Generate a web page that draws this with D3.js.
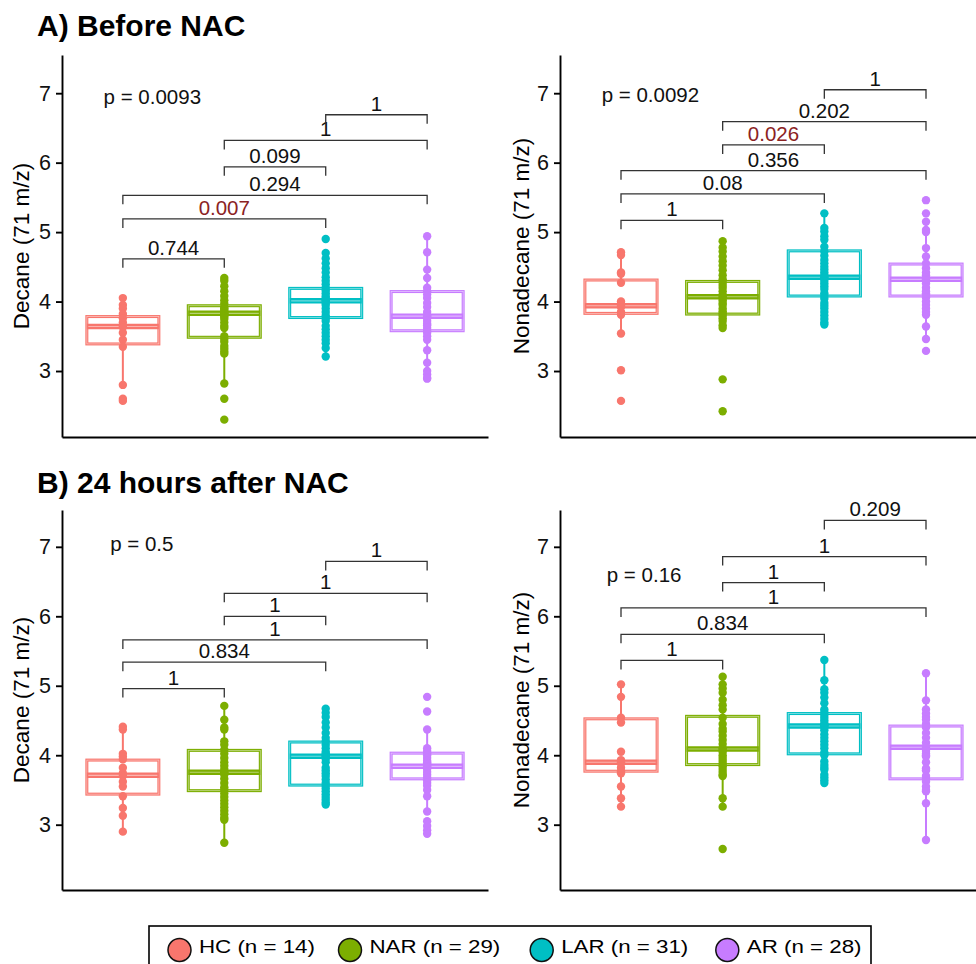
<!DOCTYPE html>
<html>
<head>
<meta charset="UTF-8">
<script src="https://d3js.org/d3.v7.min.js"></script>
<style>
  body { margin: 0; background: #fff; }
  text { font-family: "Liberation Sans", Arial, sans-serif; }
</style>
</head>
<body>
<svg id="chart" width="976" height="964"></svg>
<script>
// groups and colours (ggplot default hues)
const groups = ["HC", "NAR", "LAR", "AR"];
const groupN = [14, 29, 31, 28];
const colors = ["#F8766D", "#7CAE00", "#00BFC4", "#C77CFF"];
const yTicks = [3, 4, 5, 6, 7];
const rowTitles = ["A) Before NAC", "B) 24 hours after NAC"];
const yLabels = ["Decane (71 m/z)", "Nonadecane (71 m/z)"];

// pairwise comparisons, same order in every panel
const pairs = [[0, 1], [0, 2], [0, 3], [1, 2], [1, 3], [2, 3]];

// ---- A) Decane, before NAC
const decaneBeforePts = [
  [4.05, 3.95, 3.90, 3.82, 3.76, 3.70, 3.65, 3.63, 3.55, 3.45, 3.35, 2.80, 2.60, 2.57],
  [4.34, 4.30, 4.22, 4.15, 4.08, 4.02, 3.97, 3.92, 3.90, 3.88, 3.85, 3.83, 3.82, 3.80, 3.78, 3.75, 3.70, 3.65, 3.62, 3.50, 3.46, 3.42, 3.36, 3.32, 3.28, 3.25, 2.82, 2.60, 2.30],
  [4.90, 4.70, 4.62, 4.55, 4.48, 4.42, 4.35, 4.30, 4.25, 4.20, 4.16, 4.12, 4.08, 4.05, 4.02, 4.01, 3.98, 3.95, 3.90, 3.85, 3.80, 3.76, 3.72, 3.65, 3.60, 3.55, 3.50, 3.45, 3.40, 3.33, 3.21],
  [4.94, 4.71, 4.46, 4.34, 4.20, 4.15, 4.10, 4.05, 3.98, 3.92, 3.85, 3.80, 3.79, 3.76, 3.72, 3.68, 3.66, 3.62, 3.58, 3.55, 3.50, 3.45, 3.30, 3.12, 3.00, 2.95, 2.90, 2.89]
];
// [lower whisker, q1, median, q3, upper whisker]
const decaneBeforeBox = [
  [2.80, 3.39, 3.64, 3.784, 4.06],
  [2.82, 3.486, 3.83, 3.94, 4.34],
  [3.21, 3.77, 4.01, 4.19, 4.70],
  [2.89, 3.58, 3.79, 4.144, 4.94]
];
const decaneBeforeBrY = [4.615, 5.19, 5.53, 5.94, 6.32, 6.69];
const decaneBeforeBrLab = ["0.744", "0.007", "0.294", "0.099", "1", "1"];

// ---- A) Nonadecane, before NAC
const nonadecaneBeforePts = [
  [4.71, 4.67, 4.42, 4.40, 4.27, 4.00, 3.97, 3.94, 3.92, 3.85, 3.81, 3.54, 3.01, 2.57],
  [4.87, 4.78, 4.72, 4.65, 4.58, 4.52, 4.45, 4.38, 4.32, 4.28, 4.24, 4.20, 4.15, 4.10, 4.07, 4.05, 4.02, 3.98, 3.95, 3.90, 3.86, 3.83, 3.80, 3.76, 3.72, 3.66, 3.62, 2.88, 2.42],
  [5.27, 5.06, 5.01, 4.94, 4.89, 4.79, 4.72, 4.66, 4.60, 4.55, 4.50, 4.46, 4.42, 4.38, 4.35, 4.34, 4.30, 4.26, 4.22, 4.18, 4.12, 4.08, 4.04, 3.98, 3.94, 3.90, 3.85, 3.80, 3.75, 3.70, 3.67],
  [5.46, 5.27, 5.15, 5.03, 5.00, 4.77, 4.65, 4.55, 4.48, 4.42, 4.38, 4.34, 4.32, 4.30, 4.26, 4.20, 4.15, 4.12, 4.10, 4.06, 4.00, 3.95, 3.90, 3.85, 3.81, 3.64, 3.46, 3.29]
];
const nonadecaneBeforeBox = [
  [3.54, 3.83, 3.94, 4.31, 4.71],
  [3.62, 3.82, 4.07, 4.29, 4.87],
  [3.67, 4.08, 4.35, 4.73, 5.27],
  [3.46, 4.08, 4.32, 4.54, 5.15]
];
const nonadecaneBeforeBrY = [5.17, 5.55, 5.885, 6.255, 6.59, 7.05];
const nonadecaneBeforeBrLab = ["1", "0.08", "0.356", "0.026", "0.202", "1"];

// ---- B) Decane, 24 h after NAC
const decaneAfterPts = [
  [4.41, 4.37, 4.02, 3.98, 3.94, 3.82, 3.74, 3.70, 3.62, 3.55, 3.41, 3.24, 3.13, 2.90],
  [4.71, 4.51, 4.40, 4.37, 4.20, 4.15, 4.08, 4.02, 3.96, 3.90, 3.85, 3.80, 3.76, 3.75, 3.72, 3.66, 3.60, 3.54, 3.50, 3.45, 3.40, 3.35, 3.30, 3.25, 3.20, 3.15, 3.10, 3.07, 2.74],
  [4.67, 4.61, 4.55, 4.47, 4.40, 4.32, 4.25, 4.20, 4.15, 4.10, 4.05, 4.02, 4.00, 3.99, 3.97, 3.95, 3.90, 3.82, 3.78, 3.74, 3.70, 3.65, 3.60, 3.56, 3.52, 3.48, 3.44, 3.40, 3.36, 3.32, 3.29],
  [4.84, 4.63, 4.37, 4.10, 4.06, 4.03, 4.00, 3.96, 3.92, 3.90, 3.88, 3.86, 3.84, 3.82, 3.80, 3.76, 3.72, 3.68, 3.64, 3.60, 3.56, 3.50, 3.41, 3.19, 3.05, 2.98, 2.92, 2.87]
];
const decaneAfterBox = [
  [2.90, 3.44, 3.71, 3.93, 4.41],
  [2.74, 3.49, 3.755, 4.07, 4.71],
  [3.29, 3.57, 3.985, 4.19, 4.67],
  [3.19, 3.66, 3.84, 4.03, 4.37]
];
const decaneAfterBrY = [4.96, 5.34, 5.66, 6.0, 6.33, 6.79];
const decaneAfterBrLab = ["1", "0.834", "1", "1", "1", "1"];

// ---- B) Nonadecane, 24 h after NAC
const nonadecaneAfterPts = [
  [5.02, 4.84, 4.54, 4.47, 4.05, 3.93, 3.90, 3.88, 3.82, 3.77, 3.74, 3.55, 3.38, 3.26],
  [5.13, 5.02, 4.96, 4.90, 4.80, 4.72, 4.66, 4.54, 4.45, 4.38, 4.34, 4.28, 4.22, 4.16, 4.10, 4.08, 4.05, 4.00, 3.96, 3.92, 3.88, 3.84, 3.80, 3.76, 3.72, 3.70, 3.38, 3.26, 2.65],
  [5.37, 5.08, 4.95, 4.90, 4.83, 4.75, 4.66, 4.62, 4.58, 4.54, 4.50, 4.46, 4.43, 4.42, 4.40, 4.36, 4.30, 4.25, 4.20, 4.15, 4.10, 4.04, 4.00, 3.91, 3.86, 3.82, 3.79, 3.72, 3.68, 3.64, 3.60],
  [5.18, 4.79, 4.66, 4.60, 4.55, 4.51, 4.45, 4.40, 4.32, 4.25, 4.18, 4.12, 4.10, 4.06, 4.02, 4.00, 3.98, 3.90, 3.81, 3.78, 3.70, 3.66, 3.62, 3.55, 3.50, 3.48, 3.31, 2.78]
];
const nonadecaneAfterBox = [
  [3.26, 3.77, 3.90, 4.524, 5.02],
  [3.26, 3.865, 4.09, 4.56, 5.13],
  [3.60, 4.02, 4.42, 4.60, 5.37],
  [2.78, 3.66, 4.115, 4.42, 5.18]
];
const nonadecaneAfterBrY = [5.365, 5.74, 6.12, 6.485, 6.86, 7.38];
const nonadecaneAfterBrLab = ["1", "0.834", "1", "1", "1", "0.209"];

// global (Kruskal-Wallis) p labels: text, x in group units, y in data units
const globalP = ["p = 0.0093", "p = 0.0092", "p = 0.5", "p = 0.16"];
const globalPX = [0.81, 0.81, 0.875, 0.86];
const globalPY = [6.84, 6.88, 6.935, 6.50];

const svg = d3.select("#chart");

// row geometry
const rows = [
  { top: 55, bottom: 437, domain: [2.05, 7.55], titleY: 36 },
  { top: 510, bottom: 890, domain: [2.06, 7.53], titleY: 493 }
];
const cols = [
  { left: 62, right: 488, labelX: 29 },
  { left: 560, right: 987, labelX: 529 }
];

const panels = [
  { row: 0, col: 0, pts: decaneBeforePts, box: decaneBeforeBox, brY: decaneBeforeBrY, brLab: decaneBeforeBrLab, p: 0 },
  { row: 0, col: 1, pts: nonadecaneBeforePts, box: nonadecaneBeforeBox, brY: nonadecaneBeforeBrY, brLab: nonadecaneBeforeBrLab, p: 1 },
  { row: 1, col: 0, pts: decaneAfterPts, box: decaneAfterBox, brY: decaneAfterBrY, brLab: decaneAfterBrLab, p: 2 },
  { row: 1, col: 1, pts: nonadecaneAfterPts, box: nonadecaneAfterBox, brY: nonadecaneAfterBrY, brLab: nonadecaneAfterBrLab, p: 3 }
];

// row titles
rows.forEach((r, i) => {
  svg.append("text")
    .attr("x", 37)
    .attr("y", r.titleY)
    .style("font-size", "30px")
    .style("font-weight", "bold")
    .attr("fill", "#000")
    .text(rowTitles[i]);
});

panels.forEach(pn => {
  const r = rows[pn.row], c = cols[pn.col];
  const g = svg.append("g");

  const x = d3.scalePoint().domain(groups).range([c.left, c.right]).padding(0.6);
  const y = d3.scaleLinear().domain(r.domain).range([r.bottom, r.top]);
  const step = x.step();
  const bw = step * 0.71;

  // axes
  const yAx = g.append("g")
    .attr("transform", `translate(${c.left},0)`)
    .call(d3.axisLeft(y).tickValues(yTicks).tickFormat(d3.format("d"))
      .tickSize(6).tickSizeOuter(0).tickPadding(5));
  const xAx = g.append("g")
    .attr("transform", `translate(0,${r.bottom})`)
    .call(d3.axisBottom(x).tickSize(0).tickSizeOuter(0).tickFormat(""));
  [yAx, xAx].forEach(a => {
    a.select(".domain").attr("stroke", "#000").attr("stroke-width", 1.9);
    a.selectAll(".tick line").attr("stroke", "#000").attr("stroke-width", 1.9);
  });
  yAx.selectAll(".tick text").style("font-size", "21.5px").attr("fill", "#111");

  g.append("text")
    .attr("transform", `translate(${c.labelX},${(r.top + r.bottom) / 2}) rotate(-90)`)
    .attr("text-anchor", "middle")
    .style("font-size", "22.5px")
    .attr("fill", "#000")
    .text(yLabels[pn.col]);

  // boxplots
  groups.forEach((grp, i) => {
    const [lo, q1, med, q3, hi] = pn.box[i];
    const cx = x(grp);
    const col = colors[i];
    g.append("line").attr("x1", cx).attr("x2", cx).attr("y1", y(lo)).attr("y2", y(q1))
      .attr("stroke", col).attr("stroke-width", 2);
    g.append("line").attr("x1", cx).attr("x2", cx).attr("y1", y(q3)).attr("y2", y(hi))
      .attr("stroke", col).attr("stroke-width", 2);
    g.append("rect")
      .attr("x", cx - bw / 2).attr("y", y(q3))
      .attr("width", bw).attr("height", y(q1) - y(q3))
      .attr("fill", "#fff").attr("stroke", col).attr("stroke-width", 3);
    g.append("rect")
      .attr("x", cx - bw / 2).attr("y", y(q3))
      .attr("width", bw).attr("height", y(q1) - y(q3))
      .attr("fill", "none").attr("stroke", "#fff").attr("stroke-width", 0.8).attr("opacity", 0.55);
    g.append("line").attr("x1", cx - bw / 2).attr("x2", cx + bw / 2).attr("y1", y(med)).attr("y2", y(med))
      .attr("stroke", col).attr("stroke-width", 5.5);
    g.append("line").attr("x1", cx - bw / 2 + 1.5).attr("x2", cx + bw / 2 - 1.5).attr("y1", y(med)).attr("y2", y(med))
      .attr("stroke", "#fff").attr("stroke-width", 1.1).attr("opacity", 0.45);

    g.selectAll(null)
      .data(pn.pts[i])
      .enter().append("circle")
      .attr("cx", cx)
      .attr("cy", d => y(d))
      .attr("r", 4.2)
      .attr("fill", col);
  });

  // comparison brackets
  const tip = 9;
  pairs.forEach(([a, b], k) => {
    const x1 = x(groups[a]), x2 = x(groups[b]), yy = y(pn.brY[k]);
    g.append("path")
      .attr("d", `M${x1},${yy + tip}V${yy}H${x2}V${yy + tip}`)
      .attr("fill", "none").attr("stroke", "#333").attr("stroke-width", 1.3);
    const lab = pn.brLab[k];
    g.append("text")
      .attr("x", (x1 + x2) / 2)
      .attr("y", yy - 4)
      .attr("text-anchor", "middle")
      .style("font-size", "20.5px")
      .attr("fill", +lab < 0.05 ? "#8B2323" : "#111")
      .text(lab);
  });

  // global p value
  g.append("text")
    .attr("x", x(groups[0]) + (globalPX[pn.p] - 1) * step)
    .attr("y", y(globalPY[pn.p]))
    .style("font-size", "20.5px")
    .attr("fill", "#111")
    .text(globalP[pn.p]);
});

// legend
const leg = svg.append("g");
leg.append("rect")
  .attr("x", 149).attr("y", 926)
  .attr("width", 722).attr("height", 60)
  .attr("fill", "#fff").attr("stroke", "#000").attr("stroke-width", 1.6);

const legStarts = [168, 338.5, 530.2, 715.8];
groups.forEach((grp, i) => {
  const x0 = legStarts[i];
  leg.append("circle")
    .attr("cx", x0 + 11.5).attr("cy", 950)
    .attr("r", 11.5)
    .attr("fill", colors[i]).attr("stroke", "#111").attr("stroke-width", 1.5);
  leg.append("text")
    .attr("transform", `translate(${x0 + 31},953) scale(1.2,1)`)
    .style("font-size", "18.6px")
    .attr("fill", "#000")
    .text(`${grp} (n = ${groupN[i]})`);
});
</script>
</body>
</html>
